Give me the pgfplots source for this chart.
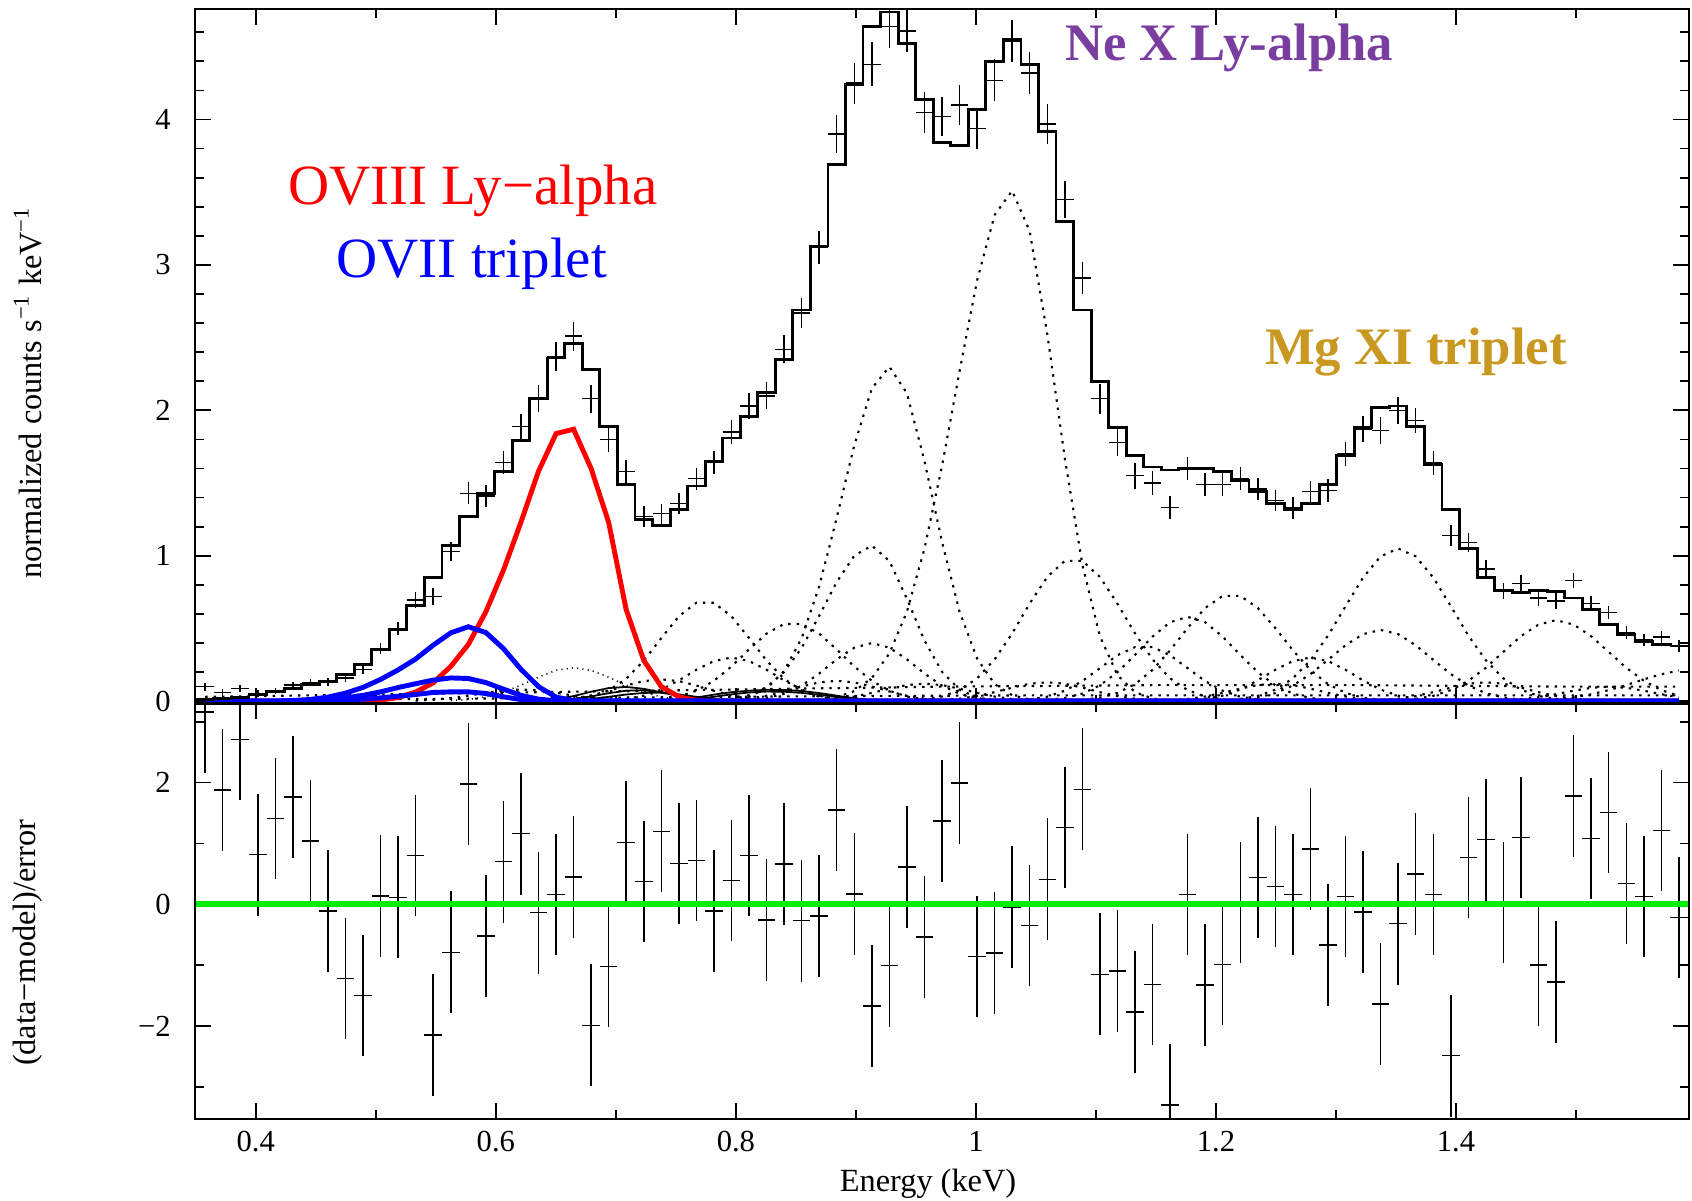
\documentclass[border=0pt]{standalone}
\usepackage{fontspec}
\setmainfont{Liberation Serif}
\usepackage{pgfplots}
\pgfplotsset{compat=1.18}
\usepackage{pgfplotstable}

\definecolor{nepurple}{RGB}{122,62,160}
\definecolor{mggold}{RGB}{200,152,32}
\definecolor{resgreen}{RGB}{0,240,0}

% bin left edge, bin centre, model, data, data error, residual
\pgfplotstableread{
e c m d err r
0.3505 0.3578 0.012 0.099 0.027 3.16
0.3651 0.3724 0.017 0.060 0.023 1.875
0.3797 0.3870 0.025 0.087 0.023 2.71
0.3944 0.4017 0.046 0.053 0.022 0.815
0.4090 0.4163 0.064 0.069 0.022 1.41
0.4236 0.4309 0.087 0.110 0.023 1.76
0.4382 0.4455 0.115 0.128 0.025 1.04
0.4528 0.4601 0.133 0.133 0.026 -0.11
0.4674 0.4747 0.183 0.160 0.028 -1.22
0.4821 0.4894 0.255 0.218 0.032 -1.50
0.4967 0.5040 0.358 0.362 0.040 0.136
0.5113 0.5186 0.495 0.500 0.046 0.114
0.5259 0.5332 0.660 0.695 0.053 0.80
0.5405 0.5478 0.850 0.718 0.060 -2.15
0.5552 0.5625 1.070 1.030 0.068 -0.79
0.5698 0.5771 1.270 1.430 0.075 1.98
0.5844 0.5917 1.430 1.410 0.077 -0.52
0.5990 0.6063 1.580 1.640 0.080 0.70
0.6136 0.6209 1.790 1.890 0.085 1.16
0.6282 0.6355 2.080 2.080 0.092 -0.14
0.6429 0.6502 2.360 2.370 0.098 0.16
0.6575 0.6648 2.460 2.510 0.100 0.45
0.6721 0.6794 2.280 2.080 0.097 -1.99
0.6867 0.6940 1.890 1.800 0.088 -1.02
0.7013 0.7086 1.490 1.580 0.078 1.02
0.7160 0.7233 1.250 1.270 0.070 0.375
0.7306 0.7379 1.210 1.290 0.069 1.20
0.7452 0.7525 1.320 1.360 0.072 0.67
0.7598 0.7671 1.480 1.530 0.076 0.72
0.7744 0.7817 1.650 1.640 0.080 -0.11
0.7890 0.7963 1.810 1.850 0.084 0.39
0.8037 0.8110 1.960 2.030 0.088 0.80
0.8183 0.8256 2.120 2.100 0.092 -0.26
0.8329 0.8402 2.350 2.420 0.097 0.66
0.8475 0.8548 2.690 2.670 0.105 -0.27
0.8621 0.8694 3.130 3.120 0.115 -0.19
0.8767 0.8840 3.690 3.900 0.130 1.55
0.8914 0.8987 4.240 4.250 0.140 0.17
0.9060 0.9133 4.640 4.380 0.150 -1.67
0.9206 0.9279 4.740 4.640 0.150 -1.01
0.9352 0.9425 4.520 4.610 0.146 0.61
0.9498 0.9571 4.140 4.050 0.140 -0.54
0.9645 0.9718 3.840 4.020 0.135 1.37
0.9791 0.9864 3.820 4.100 0.135 1.99
0.9937 1.0010 4.070 3.940 0.140 -0.86
1.0083 1.0156 4.400 4.270 0.145 -0.80
1.0229 1.0302 4.550 4.540 0.147 -0.05
1.0375 1.0448 4.380 4.320 0.145 -0.35
1.0522 1.0595 3.920 3.970 0.137 0.41
1.0668 1.0741 3.300 3.450 0.125 1.26
1.0814 1.0887 2.690 2.910 0.113 1.89
1.0960 1.1033 2.200 2.080 0.102 -1.15
1.1106 1.1179 1.880 1.780 0.093 -1.10
1.1253 1.1326 1.690 1.550 0.088 -1.77
1.1399 1.1472 1.610 1.500 0.085 -1.32
1.1545 1.1618 1.590 1.330 0.080 -3.30
1.1691 1.1764 1.600 1.600 0.082 0.16
1.1837 1.1910 1.600 1.490 0.082 -1.33
1.1983 1.2056 1.580 1.490 0.082 -0.99
1.2130 1.2203 1.520 1.530 0.080 0.03
1.2276 1.2349 1.440 1.460 0.078 0.44
1.2422 1.2495 1.360 1.380 0.075 0.29
1.2568 1.2641 1.320 1.330 0.074 0.16
1.2714 1.2787 1.360 1.440 0.075 0.91
1.2861 1.2934 1.490 1.450 0.078 -0.67
1.3007 1.3080 1.690 1.700 0.083 0.125
1.3153 1.3226 1.880 1.870 0.088 -0.13
1.3299 1.3372 2.020 1.860 0.092 -1.64
1.3445 1.3518 2.030 2.000 0.092 -0.32
1.3591 1.3664 1.890 1.930 0.088 0.50
1.3738 1.3811 1.630 1.640 0.082 0.16
1.3884 1.3957 1.320 1.140 0.072 -2.49
1.4030 1.4103 1.050 1.090 0.065 0.77
1.4176 1.4249 0.850 0.910 0.058 1.06
1.4322 1.4395 0.760 0.760 0.055 0.03
1.4469 1.4541 0.750 0.810 0.055 1.10
1.4615 1.4688 0.760 0.710 0.055 -1.00
1.4761 1.4834 0.757 0.690 0.055 -1.28
1.4907 1.4980 0.710 0.830 0.053 1.78
1.5053 1.5126 0.630 0.670 0.050 1.08
1.5199 1.5272 0.530 0.610 0.047 1.51
1.5346 1.5419 0.460 0.470 0.044 0.34
1.5492 1.5565 0.410 0.420 0.042 0.125
1.5638 1.5711 0.390 0.440 0.041 1.21
1.5784 1.5857 0.380 0.380 0.040 -0.22
}\spec

\pgfplotsset{
  xsp/.style={
    scale only axis, width=14.935cm,
    xmin=0.3496, xmax=1.594,
    xtick={0.4,0.6,0.8,1.0,1.2,1.4},
    minor xtick={0.5,0.7,0.9,1.1,1.3,1.5},
    tick align=inside,
    major tick length=4.5pt, minor tick length=2.5pt,
    axis line style={line width=0.6pt},
    tick style={line width=0.5pt, black},
    tick label style={font=\fontsize{8.7}{10}\selectfont},
    /pgf/number format/assume math mode=true,
    yticklabel style={xshift=-3.5pt},
    label style={font=\fontsize{9.2}{11}\selectfont},
  },
  cmp/.style={black, line width=0.6pt, dash pattern=on 0.7pt off 1.7pt},
  gl/.style={black, line width=0.5pt},
  xbars/.style={only marks, mark=*, mark size=0pt,
    mark options={draw=none, fill=none}},
}

\begin{document}
\begin{tikzpicture}
\useasboundingbox (0,0) rectangle (16.92,12);

% ---------------- spectrum ----------------
\begin{axis}[xsp, at={(1.953cm,4.965cm)}, anchor=south west,
  height=6.945cm, ymin=-0.016, ymax=4.76,
  xticklabels={},
  ytick={0,1,2,3,4},
  minor ytick={0.2,0.4,0.6,0.8,1.2,1.4,1.6,1.8,2.2,2.4,2.6,2.8,3.2,3.4,3.6,3.8,4.2,4.4,4.6},
  ylabel={normalized counts s\textsuperscript{−1} keV\textsuperscript{−1}},
  ylabel style={at={(axis description cs:-0.112,0.448)}, anchor=center},
]
% continuum-like components
\addplot[cmp] coordinates {(0.3578,0.03) (0.4455,0.04) (0.5332,0.05) (0.6209,0.06) (0.7086,0.07) (0.7963,0.08) (0.8840,0.09) (0.9718,0.10) (1.0595,0.105) (1.1472,0.11) (1.2349,0.11) (1.3226,0.11) (1.4103,0.105) (1.4980,0.10) (1.5857,0.10)};
\addplot[cmp] coordinates {(0.3578,0.005) (0.5332,0.015) (0.7086,0.025) (0.8840,0.035) (1.0595,0.04) (1.2349,0.04) (1.4103,0.04) (1.5857,0.04)};
% small lines
\addplot[cmp] coordinates {(0.5332,0.004) (0.5478,0.010) (0.5625,0.021) (0.5771,0.038) (0.5917,0.058) (0.6063,0.074) (0.6209,0.080) (0.6355,0.074) (0.6502,0.058) (0.6648,0.038) (0.6794,0.021) (0.6940,0.010) (0.7086,0.004)};
\addplot[cmp] coordinates {(0.6502,0.008) (0.6648,0.019) (0.6794,0.040) (0.6940,0.071) (0.7086,0.108) (0.7233,0.138) (0.7379,0.150) (0.7525,0.138) (0.7671,0.108) (0.7817,0.071) (0.7963,0.040) (0.8110,0.019) (0.8256,0.008)};
\addplot[cmp] coordinates {(0.7963,0.007) (0.8110,0.018) (0.8256,0.037) (0.8402,0.067) (0.8548,0.101) (0.8694,0.129) (0.8840,0.140) (0.8987,0.129) (0.9133,0.101) (0.9279,0.067) (0.9425,0.037) (0.9571,0.018) (0.9718,0.007)};
\addplot[cmp] coordinates {(0.8694,0.006) (0.8840,0.015) (0.8987,0.032) (0.9133,0.057) (0.9279,0.086) (0.9425,0.111) (0.9571,0.120) (0.9718,0.111) (0.9864,0.086) (1.0010,0.057) (1.0156,0.032) (1.0302,0.015) (1.0448,0.006)};
\addplot[cmp] coordinates {(0.9718,0.007) (0.9864,0.017) (1.0010,0.035) (1.0156,0.062) (1.0302,0.093) (1.0448,0.120) (1.0595,0.130) (1.0741,0.120) (1.0887,0.093) (1.1033,0.062) (1.1179,0.035) (1.1326,0.017) (1.1472,0.007)};
\addplot[cmp] coordinates {(1.1618,0.006) (1.1764,0.015) (1.1910,0.032) (1.2056,0.057) (1.2203,0.086) (1.2349,0.111) (1.2495,0.120) (1.2641,0.111) (1.2787,0.086) (1.2934,0.057) (1.3080,0.032) (1.3226,0.015) (1.3372,0.006)};
\addplot[cmp] coordinates {(1.3372,0.007) (1.3518,0.017) (1.3664,0.035) (1.3811,0.062) (1.3957,0.093) (1.4103,0.120) (1.4249,0.130) (1.4395,0.120) (1.4541,0.093) (1.4688,0.062) (1.4834,0.035) (1.4980,0.017) (1.5126,0.007)};
\addplot[cmp] coordinates {(1.4395,0.005) (1.4541,0.013) (1.4688,0.027) (1.4834,0.048) (1.4980,0.072) (1.5126,0.092) (1.5272,0.100) (1.5419,0.092) (1.5565,0.072) (1.5711,0.048) (1.5857,0.027)};
% main dotted lines
\addplot[cmp] coordinates {(0.6502,0.003) (0.6648,0.011) (0.6794,0.030) (0.6940,0.074) (0.7086,0.154) (0.7233,0.279) (0.7379,0.434) (0.7525,0.584) (0.7671,0.677) (0.7817,0.677) (0.7963,0.584) (0.8110,0.434) (0.8256,0.279) (0.8402,0.154) (0.8548,0.074) (0.8694,0.030) (0.8840,0.011) (0.8987,0.003)};
\addplot[cmp] coordinates {(0.6940,0.005) (0.7086,0.015) (0.7233,0.038) (0.7379,0.080) (0.7525,0.143) (0.7671,0.216) (0.7817,0.276) (0.7963,0.300) (0.8110,0.276) (0.8256,0.216) (0.8402,0.143) (0.8548,0.080) (0.8694,0.038) (0.8840,0.015) (0.8987,0.005)};
\addplot[cmp] coordinates {(0.7233,0.004) (0.7379,0.013) (0.7525,0.032) (0.7671,0.072) (0.7817,0.140) (0.7963,0.238) (0.8110,0.356) (0.8256,0.465) (0.8402,0.531) (0.8548,0.531) (0.8694,0.465) (0.8840,0.356) (0.8987,0.238) (0.9133,0.140) (0.9279,0.072) (0.9425,0.032) (0.9571,0.013) (0.9718,0.004)};
\addplot[cmp] coordinates {(0.8110,0.007) (0.8256,0.021) (0.8402,0.051) (0.8548,0.107) (0.8694,0.190) (0.8840,0.288) (0.8987,0.368) (0.9133,0.400) (0.9279,0.368) (0.9425,0.288) (0.9571,0.190) (0.9718,0.107) (0.9864,0.051) (1.0010,0.021) (1.0156,0.007)};
\addplot[cmp] coordinates {(0.7817,0.005) (0.7963,0.015) (0.8110,0.041) (0.8256,0.097) (0.8402,0.201) (0.8548,0.367) (0.8694,0.586) (0.8840,0.819) (0.8987,1.001) (0.9133,1.070) (0.9279,0.964) (0.9425,0.705) (0.9571,0.418) (0.9718,0.202) (0.9864,0.079) (1.0010,0.025) (1.0156,0.006)};
\addplot[cmp] coordinates {(0.7963,0.010) (0.8110,0.032) (0.8256,0.087) (0.8402,0.208) (0.8548,0.433) (0.8694,0.789) (0.8840,1.260) (0.8987,1.761) (0.9133,2.151) (0.9279,2.300) (0.9425,2.118) (0.9571,1.654) (0.9718,1.095) (0.9864,0.615) (1.0010,0.293) (1.0156,0.118) (1.0302,0.041) (1.0448,0.012)};
\addplot[cmp] coordinates {(0.8694,0.010) (0.8840,0.028) (0.8987,0.069) (0.9133,0.159) (0.9279,0.328) (0.9425,0.615) (0.9571,1.047) (0.9718,1.619) (0.9864,2.270) (1.0010,2.893) (1.0156,3.344) (1.0302,3.510) (1.0448,3.232) (1.0595,2.524) (1.0741,1.671) (1.0887,0.939) (1.1033,0.447) (1.1179,0.180) (1.1326,0.062) (1.1472,0.018) (1.1618,0.005)};
\addplot[cmp] coordinates {(0.9425,0.004) (0.9571,0.012) (0.9718,0.032) (0.9864,0.076) (1.0010,0.157) (1.0156,0.287) (1.0302,0.466) (1.0448,0.671) (1.0595,0.855) (1.0741,0.965) (1.0887,0.965) (1.1033,0.855) (1.1179,0.671) (1.1326,0.466) (1.1472,0.287) (1.1618,0.157) (1.1764,0.076) (1.1910,0.032) (1.2056,0.012) (1.2203,0.004)};
\addplot[cmp] coordinates {(1.0302,0.004) (1.0448,0.012) (1.0595,0.031) (1.0741,0.072) (1.0887,0.138) (1.1033,0.227) (1.1179,0.316) (1.1326,0.372) (1.1472,0.372) (1.1618,0.316) (1.1764,0.227) (1.1910,0.138) (1.2056,0.072) (1.2203,0.031) (1.2349,0.012) (1.2495,0.004)};
\addplot[cmp] coordinates {(1.0595,0.008) (1.0741,0.022) (1.0887,0.052) (1.1033,0.109) (1.1179,0.199) (1.1326,0.318) (1.1472,0.444) (1.1618,0.543) (1.1764,0.580) (1.1910,0.543) (1.2056,0.444) (1.2203,0.318) (1.2349,0.199) (1.2495,0.109) (1.2641,0.052) (1.2787,0.022) (1.2934,0.008)};
\addplot[cmp] coordinates {(1.0887,0.009) (1.1033,0.024) (1.1179,0.057) (1.1326,0.117) (1.1472,0.215) (1.1618,0.350) (1.1764,0.503) (1.1910,0.641) (1.2056,0.724) (1.2203,0.724) (1.2349,0.641) (1.2495,0.503) (1.2641,0.350) (1.2787,0.215) (1.2934,0.117) (1.3080,0.057) (1.3226,0.024) (1.3372,0.009)};
\addplot[cmp] coordinates {(1.1764,0.005) (1.1910,0.015) (1.2056,0.038) (1.2203,0.080) (1.2349,0.143) (1.2495,0.216) (1.2641,0.276) (1.2787,0.300) (1.2934,0.276) (1.3080,0.216) (1.3226,0.143) (1.3372,0.080) (1.3518,0.038) (1.3664,0.015) (1.3811,0.005)};
\addplot[cmp] coordinates {(1.2203,0.010) (1.2349,0.025) (1.2495,0.055) (1.2641,0.108) (1.2787,0.186) (1.2934,0.284) (1.3080,0.385) (1.3226,0.461) (1.3372,0.490) (1.3518,0.461) (1.3664,0.385) (1.3811,0.284) (1.3957,0.186) (1.4103,0.108) (1.4249,0.055) (1.4395,0.025) (1.4541,0.010)};
\addplot[cmp] coordinates {(1.2203,0.015) (1.2349,0.036) (1.2495,0.079) (1.2641,0.157) (1.2787,0.281) (1.2934,0.451) (1.3080,0.653) (1.3226,0.850) (1.3372,0.996) (1.3518,1.050) (1.3664,0.996) (1.3811,0.850) (1.3957,0.653) (1.4103,0.451) (1.4249,0.281) (1.4395,0.157) (1.4541,0.079) (1.4688,0.036) (1.4834,0.015)};
\addplot[cmp] coordinates {(1.3664,0.016) (1.3811,0.037) (1.3957,0.076) (1.4103,0.140) (1.4249,0.230) (1.4395,0.339) (1.4541,0.447) (1.4688,0.527) (1.4834,0.557) (1.4980,0.527) (1.5126,0.447) (1.5272,0.339) (1.5419,0.230) (1.5565,0.140) (1.5711,0.076) (1.5857,0.037)};
\addplot[cmp] coordinates {(1.4688,0.007) (1.4834,0.014) (1.4980,0.027) (1.5126,0.047) (1.5272,0.076) (1.5419,0.111) (1.5565,0.150) (1.5711,0.185) (1.5857,0.211)};
% finely dotted line under OVIII
\addplot[black, line width=0.45pt, dash pattern=on 0.3pt off 1.2pt] coordinates {(0.5625,0.004) (0.5771,0.012) (0.5917,0.029) (0.6063,0.062) (0.6209,0.110) (0.6355,0.165) (0.6502,0.212) (0.6648,0.230) (0.6794,0.212) (0.6940,0.165) (0.7086,0.110) (0.7233,0.062) (0.7379,0.029) (0.7525,0.012) (0.7671,0.004)};
% solid weak lines
\addplot[gl] coordinates {(0.6355,0.005) (0.6502,0.015) (0.6648,0.035) (0.6794,0.065) (0.6940,0.090) (0.7086,0.098) (0.7233,0.085) (0.7379,0.060) (0.7525,0.035) (0.7671,0.015) (0.7817,0.005) (0.7963,0)};
\addplot[gl] coordinates {(0.6502,0.005) (0.6648,0.015) (0.6794,0.033) (0.6940,0.055) (0.7086,0.072) (0.7233,0.075) (0.7379,0.062) (0.7525,0.042) (0.7671,0.022) (0.7817,0.009) (0.7963,0.003) (0.8110,0)};
\addplot[gl] coordinates {(0.6648,0.005) (0.6794,0.015) (0.6940,0.030) (0.7086,0.046) (0.7233,0.057) (0.7379,0.058) (0.7525,0.047) (0.7671,0.030) (0.7817,0.016) (0.7963,0.006) (0.8110,0.002) (0.8256,0)};
\addplot[gl] coordinates {(0.7525,0.010) (0.7671,0.025) (0.7817,0.045) (0.7963,0.062) (0.8110,0.072) (0.8256,0.078) (0.8402,0.077) (0.8548,0.070) (0.8694,0.056) (0.8840,0.038) (0.8987,0.020) (0.9133,0.007) (0.9279,0.001)};
\addplot[gl] coordinates {(0.7671,0.015) (0.7817,0.030) (0.7963,0.047) (0.8110,0.060) (0.8256,0.066) (0.8402,0.065) (0.8548,0.057) (0.8694,0.044) (0.8840,0.028) (0.8987,0.014) (0.9133,0.005) (0.9279,0)};
% OVIII Ly-alpha
\addplot[red, line width=1.4pt] coordinates {(0.3578,0) (0.4747,0) (0.4894,0.002) (0.5040,0.008) (0.5186,0.025) (0.5332,0.063) (0.5478,0.126) (0.5625,0.240) (0.5771,0.390) (0.5917,0.615) (0.6063,0.900) (0.6209,1.230) (0.6355,1.580) (0.6502,1.840) (0.6648,1.870) (0.6794,1.600) (0.6940,1.230) (0.7086,0.630) (0.7233,0.280) (0.7379,0.100) (0.7525,0.030) (0.7671,0.006) (0.7817,0) (1.5857,0)};
% OVII triplet
\addplot[blue, line width=1.4pt] coordinates {(0.3578,0) (0.4455,0) (0.4601,0.002) (0.4747,0.007) (0.4894,0.014) (0.5040,0.023) (0.5186,0.034) (0.5332,0.046) (0.5478,0.060) (0.5625,0.064) (0.5771,0.064) (0.5917,0.053) (0.6063,0.030) (0.6209,0.011) (0.6355,0.002) (0.6502,0) (1.5857,0)};
\addplot[blue, line width=1.4pt] coordinates {(0.3578,0) (0.4309,0) (0.4455,0.003) (0.4601,0.010) (0.4747,0.023) (0.4894,0.040) (0.5040,0.064) (0.5186,0.094) (0.5332,0.120) (0.5478,0.145) (0.5625,0.160) (0.5771,0.156) (0.5917,0.128) (0.6063,0.083) (0.6209,0.040) (0.6355,0.014) (0.6502,0.002) (0.6648,0) (1.5857,0)};
\addplot[blue, line width=1.4pt] coordinates {(0.3578,0) (0.4163,0) (0.4309,0.005) (0.4455,0.012) (0.4601,0.028) (0.4747,0.055) (0.4894,0.095) (0.5040,0.150) (0.5186,0.215) (0.5332,0.290) (0.5478,0.385) (0.5625,0.470) (0.5771,0.512) (0.5917,0.472) (0.6063,0.362) (0.6209,0.220) (0.6355,0.100) (0.6502,0.028) (0.6648,0.004) (0.6794,0) (1.5857,0)};
% model
\addplot[black, line width=0.8pt, const plot mark left] table[x=e, y=m] {\spec};
\addplot[black, line width=0.8pt] coordinates {(1.5784,0.38) (1.5930,0.38)};
% data
\addplot[xbars,
  error bars/.cd, x dir=both, x fixed=0.0073, y dir=both, y explicit,
  error mark=none, error bar style={line width=0.4pt, draw=black}]
  table[x=c, y=d, y error=err] {\spec};

\node[red, font=\fontsize{16.2}{18}\selectfont] at (axis cs:0.581,3.51) {OVIII Ly−alpha};
\node[blue, font=\fontsize{16.2}{18}\selectfont] at (axis cs:0.580,3.01) {OVII triplet};
\node[nepurple, font=\fontsize{15}{17}\selectfont\bfseries] at (axis cs:1.211,4.49) {Ne X Ly-alpha};
\node[mggold, font=\fontsize{15}{17}\selectfont\bfseries] at (axis cs:1.3667,2.40) {Mg XI triplet};
\end{axis}

% ---------------- residuals ----------------
\begin{axis}[xsp, at={(1.953cm,0.81cm)}, anchor=south west,
  height=4.155cm, ymin=-3.53, ymax=3.3,
  ytick={-2,0,2}, yticklabels={−2,0,2},
  minor ytick={-3,-1,1,3},
  xlabel={Energy (keV)},
  xlabel style={at={(axis description cs:0.4906,-0.156)}, anchor=center},
  ylabel={(data−model)/error},
  ylabel style={at={(axis description cs:-0.112,0.424)}, anchor=center},
]
\addplot[xbars,
  error bars/.cd, x dir=both, x fixed=0.0073, y dir=both, y fixed=1,
  error mark=none, error bar style={line width=0.4pt, draw=black}]
  table[x=c, y=r] {\spec};
\addplot[resgreen, line width=1.8pt] coordinates {(0.3505,0) (1.5930,0)};
\end{axis}
\end{tikzpicture}
\end{document}
